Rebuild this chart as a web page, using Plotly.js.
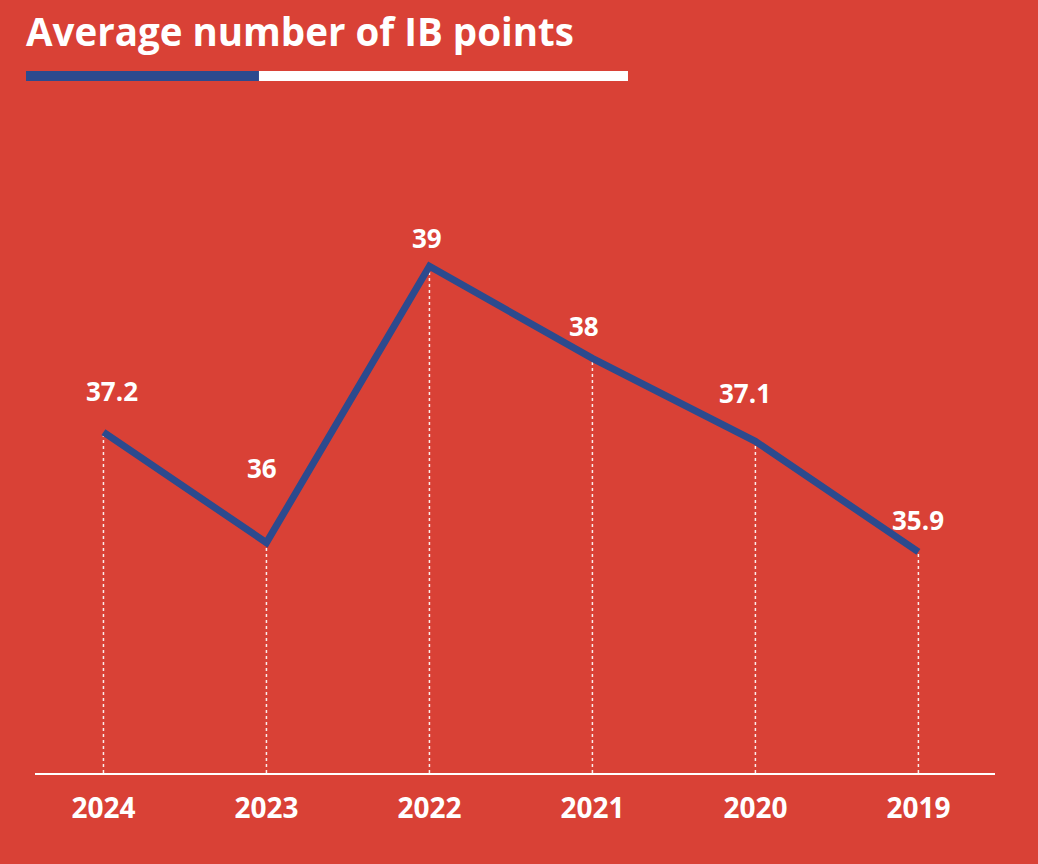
<!DOCTYPE html>
<html>
<head>
<meta charset="utf-8">
<script src="https://cdn.plot.ly/plotly-3.0.1.min.js"></script>
<style>
  html, body { margin: 0; padding: 0; background: #D94136; }
  #chart { width: 1038px; height: 864px; }
</style>
</head>
<body>
<div id="chart"></div>
<script>
// ---- data ----
const years = ["2024", "2023", "2022", "2021", "2020", "2019"];
const avgPoints = [37.2, 36, 39, 38, 37.1, 35.9];
const valueLabels = ["37.2", "36", "39", "38", "37.1", "35.9"];
const chartTitle = "Average number of IB points";

// ---- style / layout config ----
const BG = "#D94136";
const BLUE = "#2C4A8E";
const FONT = "'Open Sans', 'Noto Sans', sans-serif";
const yMin = 33.5, yMax = 40.37;
const labelShiftY = [21, 55, 8, 12, 28, 12];
const labelShiftX = [9, -4, -2, -8, -10, 0];

const trace = {
  type: "scatter",
  mode: "lines",
  x: years,
  y: avgPoints,
  line: { color: BLUE, width: 7 },
  hoverinfo: "skip"
};

// category axis: refer to categories by index
const shapes = years.map((yr, i) => ({
  type: "line", xref: "x", yref: "y", layer: "below",
  x0: i, x1: i, y0: yMin, y1: avgPoints[i],
  line: { color: "rgba(255,255,255,0.9)", width: 1.5, dash: "dot" }
}));
// decorative bar under the title
shapes.push({
  type: "rect", xref: "paper", yref: "paper",
  x0: -0.009375, x1: 0.2333, y0: 1.0932, y1: 1.109,
  fillcolor: BLUE, line: { width: 0 }
});
shapes.push({
  type: "rect", xref: "paper", yref: "paper",
  x0: 0.2333, x1: 0.6177, y0: 1.0932, y1: 1.109,
  fillcolor: "#FFFFFF", line: { width: 0 }
});

const annotations = years.map((yr, i) => ({
  x: i, y: avgPoints[i], xref: "x", yref: "y",
  text: "<b>" + valueLabels[i] + "</b>",
  showarrow: false,
  yanchor: "bottom", xanchor: "center",
  yshift: labelShiftY[i], xshift: labelShiftX[i],
  font: { family: FONT, size: 26, color: "#FFFFFF" }
}));

const layout = {
  width: 1038, height: 864,
  paper_bgcolor: BG, plot_bgcolor: BG,
  margin: { l: 35, r: 43, t: 140, b: 91, pad: 0 },
  showlegend: false,
  title: {
    text: "<b>" + chartTitle + "</b>",
    xref: "container", yref: "container",
    x: 26 / 1038, xanchor: "left",
    y: 1 - 19 / 864, yanchor: "top",
    pad: { t: 0, b: 0, l: 0, r: 0 },
    font: { family: FONT, size: 38.5, color: "#FFFFFF" }
  },
  xaxis: {
    type: "category",
    range: [-0.42, 5.47],
    showgrid: false, zeroline: false,
    showline: true, linecolor: "#FFFFFF", linewidth: 2,
    ticks: "",
    ticklabelstandoff: 9,
    tickfont: { family: FONT, size: 28, color: "#FFFFFF", weight: "bold" },
    fixedrange: true
  },
  yaxis: {
    range: [yMin, yMax],
    showgrid: false, zeroline: false, showline: false,
    showticklabels: false, ticks: "",
    fixedrange: true
  },
  shapes: shapes,
  annotations: annotations
};

Plotly.newPlot("chart", [trace], layout, { displayModeBar: false, staticPlot: true });
</script>
</body>
</html>
